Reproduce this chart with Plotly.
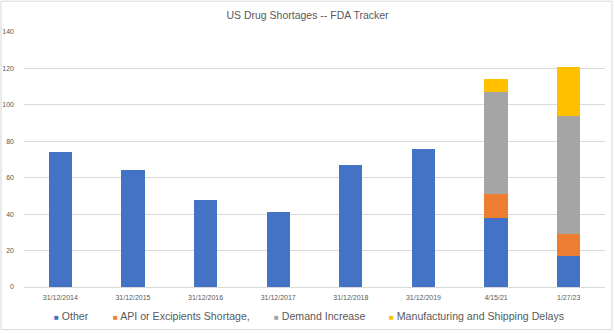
import plotly.graph_objects as go

categories = ["31/12/2014", "31/12/2015", "31/12/2016", "31/12/2017",
              "31/12/2018", "31/12/2019", "4/15/21", "1/27/23"]
other = [74, 64, 48, 41, 67, 76, 38, 17]
api = [None, None, None, None, None, None, 13, 12]
demand = [None, None, None, None, None, None, 56, 65]
manufacturing = [None, None, None, None, None, None, 7, 27]

series_names = ["Other", "API or Excipients Shortage,", "Demand Increase",
                "Manufacturing and Shipping Delays"]
series_colors = ["#4472C4", "#ED7D31", "#A5A5A5", "#FFC000"]
series_values = [other, api, demand, manufacturing]
# legend item left positions (paper fraction of plot width)
legend_x = [0.048, 0.149, 0.426, 0.625]

fig = go.Figure()
for name, vals, color in zip(series_names, series_values, series_colors):
    fig.add_trace(go.Bar(x=categories, y=vals, name=name, marker_color=color,
                         marker_line_width=0, showlegend=False))

annotations = []
for name, color, lx in zip(series_names, series_colors, legend_x):
    annotations.append(dict(
        text=f"<span style='color:{color};font-size:8px'>■</span> {name}",
        xref="paper", yref="paper", x=lx, y=-0.112,
        xanchor="left", yanchor="middle", showarrow=False,
        font=dict(size=10.6, color="#595959")))

font_family = "Liberation Sans, Arial, sans-serif"
fig.update_layout(
    barmode="stack",
    bargap=0.68,
    width=615, height=333,
    margin=dict(l=24, r=10, t=32, b=46),
    paper_bgcolor="white", plot_bgcolor="white",
    font=dict(family=font_family, color="#595959"),
    title=dict(text="US Drug Shortages -- FDA Tracker", x=0.5, xanchor="center",
               yref="container", y=0.955, yanchor="middle",
               font=dict(size=10.5, color="#595959")),
    showlegend=False,
    annotations=annotations,
    xaxis=dict(type="category", showgrid=False, automargin=False,
               tickfont=dict(size=7, color="#595959"),
               showline=True, linecolor="#D9D9D9", ticks="", ticklabelstandoff=4),
    yaxis=dict(range=[0, 140], dtick=20, showgrid=True, gridcolor="#D9D9D9",
               gridwidth=1, zeroline=False, showline=False, automargin=False,
               tickfont=dict(size=7, color="#595959"), ticks="", ticklabelstandoff=9),
    shapes=[dict(type="rect", xref="paper", yref="paper",
                 x0=-0.0396, x1=1.0120, y0=-0.167, y1=1.121,
                 line=dict(color="#D9D9D9", width=1), layer="below")],
)

fig.write_html("out.html")
